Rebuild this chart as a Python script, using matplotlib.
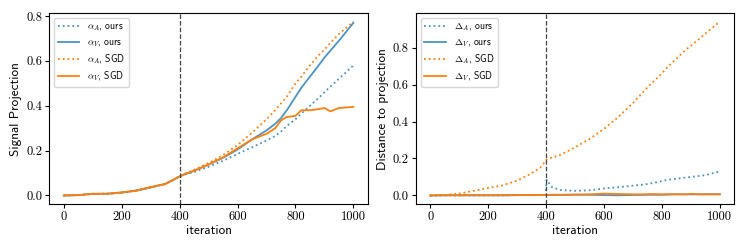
import numpy as np
import matplotlib
matplotlib.use("Agg")
import matplotlib.pyplot as plt

plt.rcParams['mathtext.fontset'] = 'cm'
plt.rcParams['axes.formatter.use_mathtext'] = True
plt.rcParams['axes.unicode_minus'] = False

iters = [0, 50, 100, 150, 200, 250, 300, 350, 380, 398, 402, 420, 450, 500, 550, 600, 650,
         700, 730, 750, 770, 800, 820, 850, 880, 900, 920, 950, 1000]

# left panel: signal projection
alpha_A_ours = [0.0, 0.002, 0.007, 0.008, 0.013, 0.022, 0.036, 0.052, 0.07, 0.084, 0.086, 0.094, 0.105,
                0.128, 0.155, 0.185, 0.215, 0.245, 0.265, 0.285, 0.31, 0.34, 0.365, 0.40, 0.435,
                0.46, 0.485, 0.52, 0.58]
alpha_V_ours = [0.0, 0.002, 0.007, 0.008, 0.013, 0.022, 0.036, 0.052, 0.07, 0.084, 0.086, 0.096, 0.11,
                0.138, 0.168, 0.205, 0.25, 0.29, 0.32, 0.345, 0.38, 0.44, 0.48, 0.53, 0.58,
                0.615, 0.645, 0.69, 0.77]
alpha_A_sgd = [0.0, 0.002, 0.007, 0.008, 0.013, 0.022, 0.036, 0.052, 0.07, 0.084, 0.087, 0.098, 0.115,
               0.145, 0.18, 0.225, 0.28, 0.34, 0.38, 0.41, 0.44, 0.50, 0.53, 0.58, 0.625,
               0.65, 0.68, 0.72, 0.775]
alpha_V_sgd = [0.0, 0.001, 0.008, 0.007, 0.014, 0.021, 0.038, 0.05, 0.072, 0.084, 0.086, 0.097, 0.11,
               0.138, 0.17, 0.21, 0.25, 0.275, 0.30, 0.335, 0.35, 0.355, 0.38, 0.38, 0.385,
               0.39, 0.375, 0.39, 0.395]

# right panel: distance to projection
delta_A_ours = [0.0, 0.001, 0.001, 0.001, 0.001, 0.001, 0.002, 0.002, 0.002, 0.002, 0.085, 0.045, 0.03,
                0.025, 0.028, 0.038, 0.045, 0.053, 0.058, 0.062, 0.068, 0.078, 0.085, 0.09, 0.097,
                0.10, 0.104, 0.11, 0.13]
delta_V_ours = [0.0, 0.001, 0.001, 0.001, 0.001, 0.001, 0.002, 0.002, 0.002, 0.003, 0.003, 0.003, 0.003,
                0.004, 0.004, 0.002, 0.001, 0.003, 0.003, 0.004, 0.004, 0.004, 0.005, 0.006, 0.006,
                0.006, 0.006, 0.007, 0.007]
delta_A_sgd = [0.0, 0.003, 0.01, 0.025, 0.04, 0.055, 0.08, 0.12, 0.15, 0.185, 0.195, 0.205, 0.22,
               0.26, 0.305, 0.36, 0.425, 0.50, 0.55, 0.585, 0.615, 0.66, 0.695, 0.74, 0.785,
               0.81, 0.835, 0.875, 0.94]
delta_V_sgd = [0.0, 0.001, 0.001, 0.001, 0.001, 0.001, 0.002, 0.002, 0.002, 0.003, 0.003, 0.004, 0.004,
               0.005, 0.006, 0.01, 0.008, 0.006, 0.006, 0.007, 0.008, 0.006, 0.007, 0.007, 0.006,
               0.009, 0.007, 0.006, 0.006]

switch_iter = 400

blue = '#1f77b4'
orange = '#ff7f0e'
tick_font = 'cmr10'
label_font = 'cmss10'
yticks = [0.0, 0.2, 0.4, 0.6, 0.8]

fig, axes = plt.subplots(1, 2, figsize=(7.47, 2.49), dpi=100)
fig.subplots_adjust(left=0.066, right=0.983, bottom=0.18, top=0.948, wspace=0.15)


def draw_panel(ax, a_ours, v_ours, a_sgd, v_sgd, sym, ylabel):
    ax.plot(iters, a_ours, ':', color=blue, alpha=0.8, lw=1.3, label=r'$%s_A$, ours' % sym)
    ax.plot(iters, v_ours, '-', color=blue, alpha=0.8, lw=1.3, label=r'$%s_V$, ours' % sym)
    ax.plot(iters, a_sgd, ':', color=orange, lw=1.3, label=r'$%s_A$, SGD' % sym)
    ax.plot(iters, v_sgd, '-', color=orange, lw=1.3, label=r'$%s_V$, SGD' % sym)
    ax.axvline(switch_iter, color='#444444', ls='--', lw=0.9)
    ax.set_xlabel('iteration', fontfamily=label_font, fontsize=9.5, labelpad=1)
    ax.set_ylabel(ylabel, fontfamily=label_font, fontsize=9.5, labelpad=3)
    ax.set_xticks([0, 200, 400, 600, 800, 1000])
    ax.set_xticklabels(['0', '200', '400', '600', '800', '1000'], fontfamily=tick_font, fontsize=9)
    ax.set_yticks(yticks)
    ax.set_yticklabels(['%.1f' % v for v in yticks], fontfamily=tick_font, fontsize=9)
    ax.tick_params(length=3, pad=2)
    ax.legend(loc='upper left', prop={'family': label_font, 'size': 7},
              handlelength=2.2, labelspacing=0.4, borderpad=0.4)


draw_panel(axes[0], alpha_A_ours, alpha_V_ours, alpha_A_sgd, alpha_V_sgd, r'\alpha', 'Signal Projection')
draw_panel(axes[1], delta_A_ours, delta_V_ours, delta_A_sgd, delta_V_sgd, r'\Delta', 'Distance to projection')

fig.savefig('out.png', dpi=100)
